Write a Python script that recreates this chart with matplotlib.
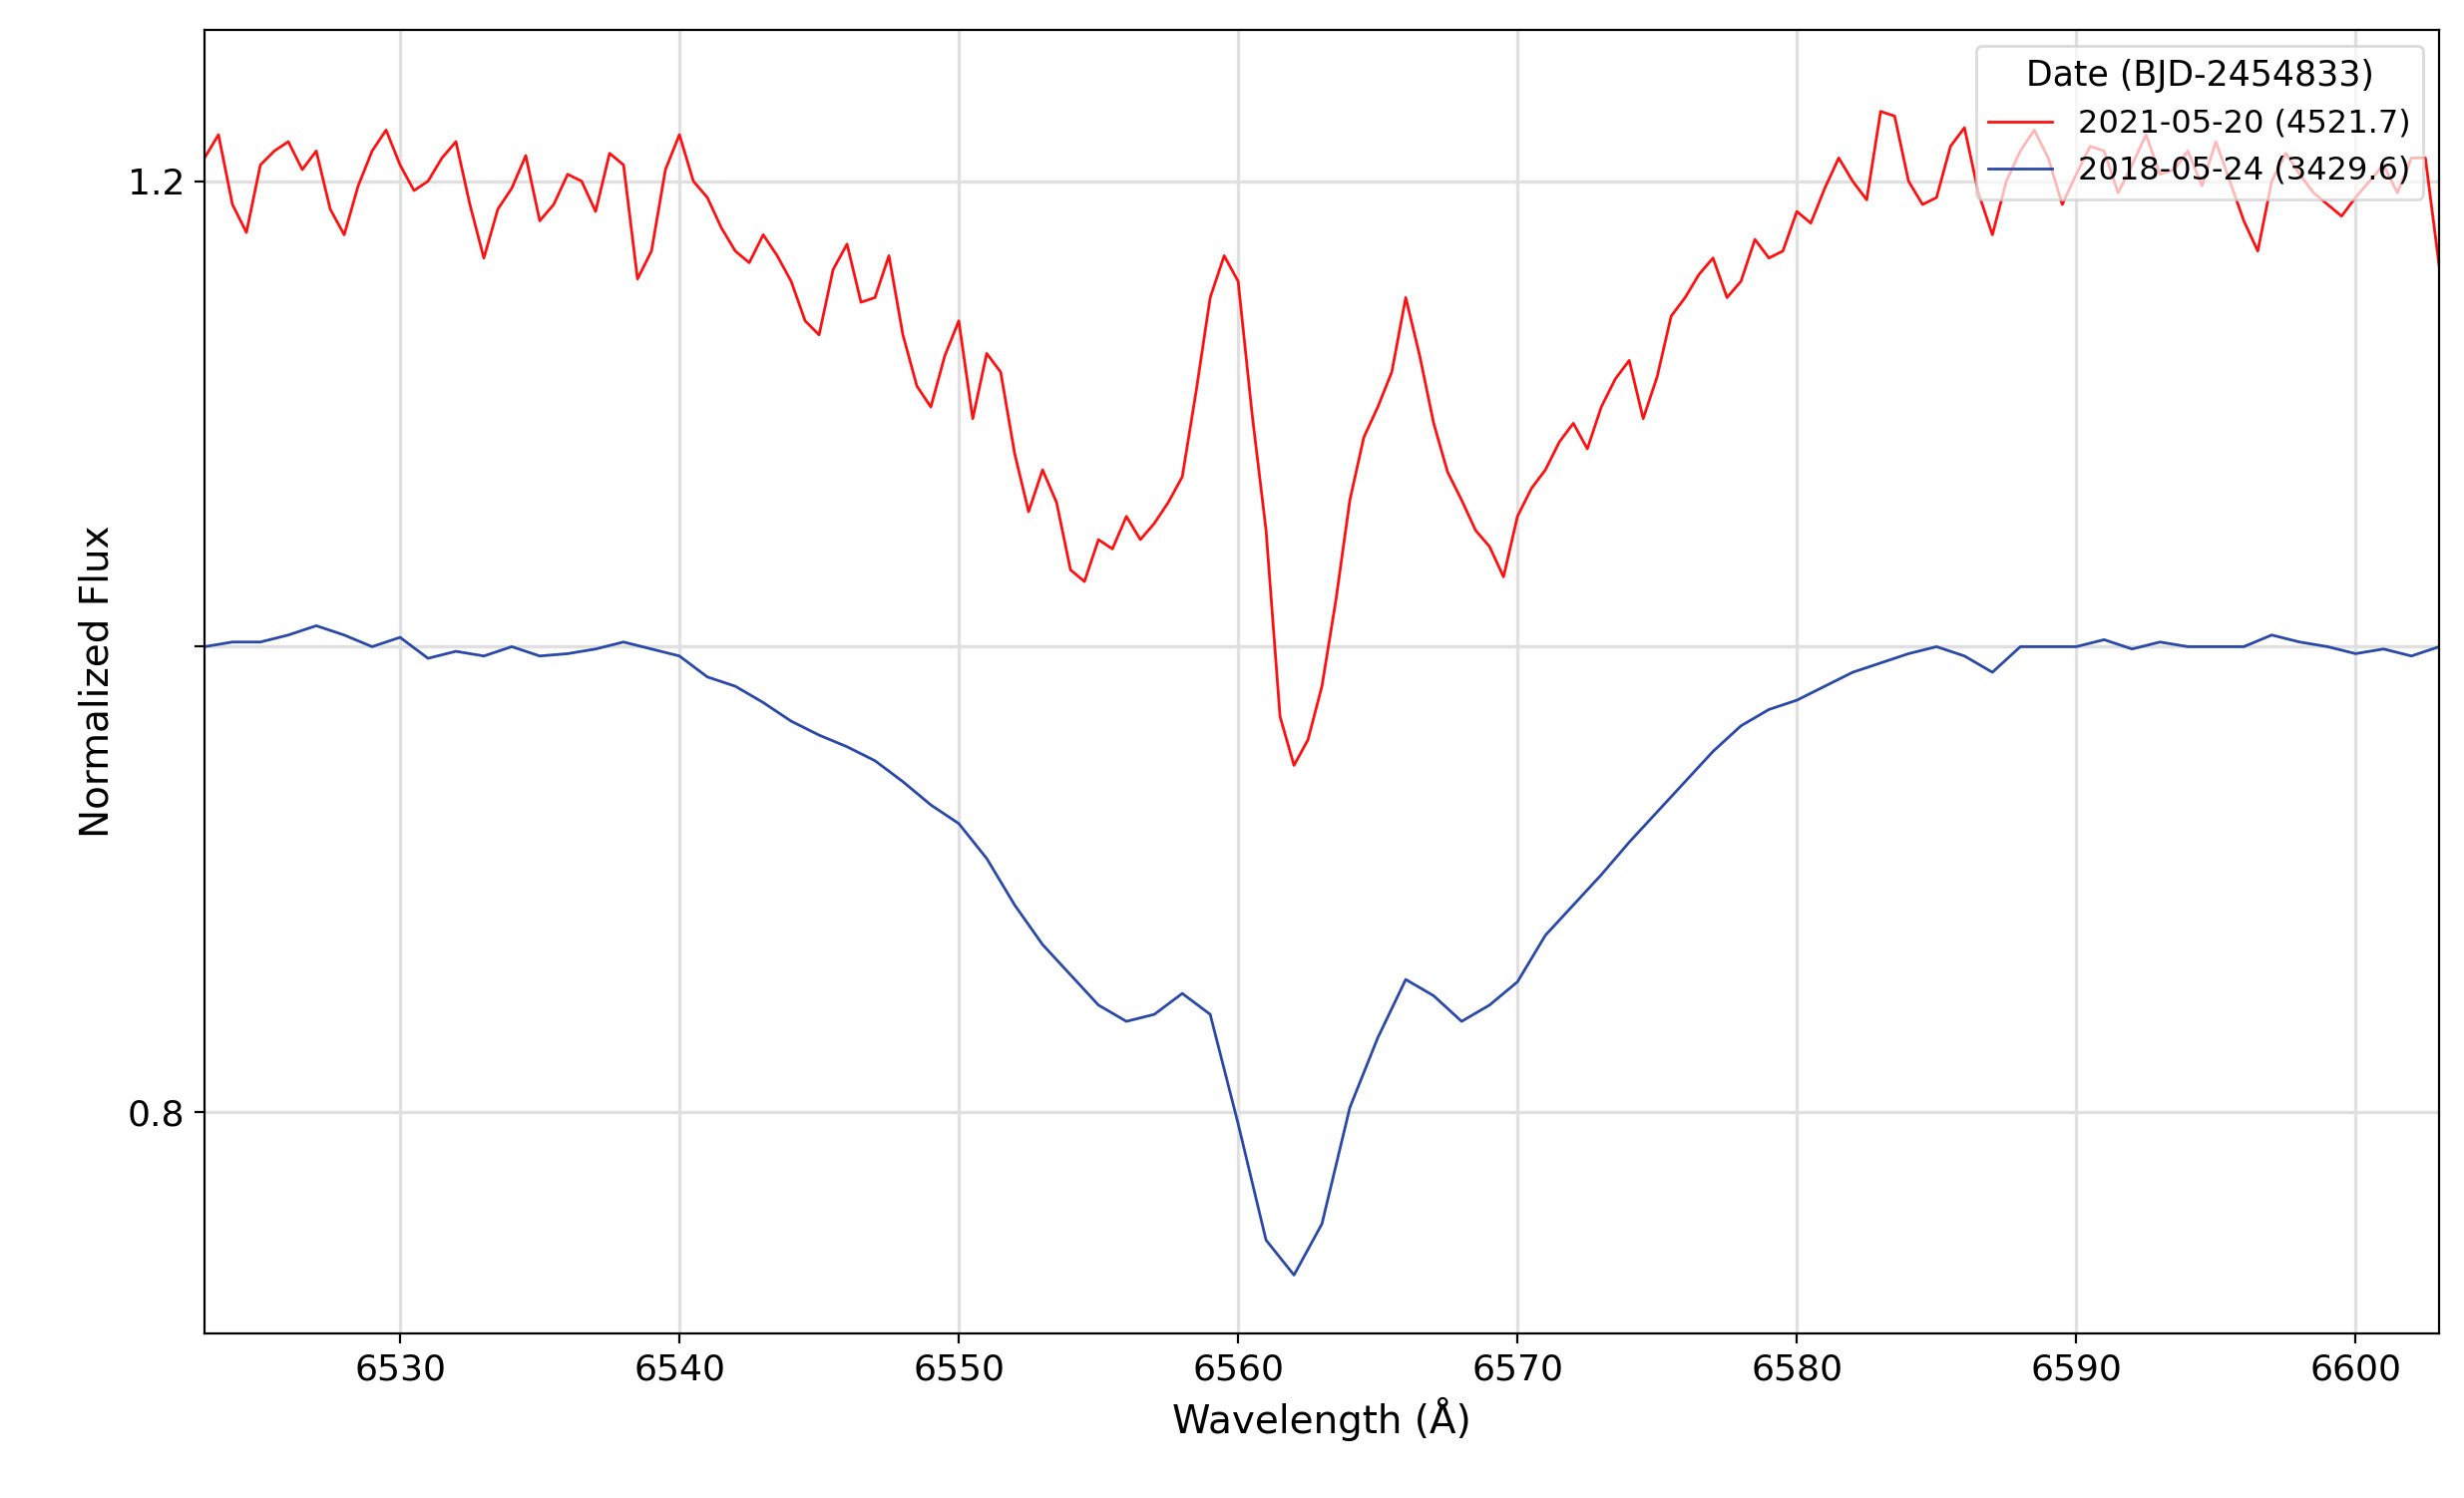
import numpy as np
import matplotlib
matplotlib.use("Agg")
import matplotlib.pyplot as plt

wl = np.arange(6523, 6604)
red = [1.21,1.19,1.207,1.217,1.213,1.177,1.213,1.207,1.2,1.217,1.167,1.197,1.183,1.203,1.187,1.207,1.17,1.22,1.193,1.17,
       1.177,1.157,1.134,1.173,1.15,1.134,1.103,1.14,1.126,1.083,1.076,1.033,1.046,1.056,1.053,1.073,1.15,1.157,1.05,0.949,
       0.983,1.063,1.103,1.15,1.096,1.063,1.043,1.056,1.076,1.096,1.103,1.123,1.116,1.15,1.167,1.157,1.167,1.187,1.197,1.2,
       1.23,1.2,1.193,1.223,1.177,1.213,1.21,1.203,1.213,1.207,1.203,1.213,1.217,1.183,1.2,1.203,1.19,1.193,1.207,1.21,1.163]
# half-Angstrom samples between the integer points above
wl_half = np.arange(6523.5, 6603, 1.0)
red_half = [1.22,1.178,1.213,1.205,1.188,1.198,1.222,1.196,1.21,1.19,1.188,1.211,1.19,1.2,1.212,1.158,1.205,1.2,1.18,1.165,
            1.168,1.14,1.162,1.148,1.168,1.112,1.125,1.098,1.118,1.058,1.062,1.028,1.042,1.046,1.062,1.11,1.168,1.1,0.97,0.96,
            1.02,1.09,1.118,1.125,1.075,1.05,1.03,1.068,1.088,1.085,1.115,1.098,1.142,1.16,1.15,1.175,1.17,1.182,1.21,1.192,
            1.228,1.19,1.215,1.195,1.2,1.222,1.19,1.215,1.195,1.22,1.205,1.198,1.2,1.17,1.212,1.195,1.185,1.2,1.195,1.21]
blue = [1.0,1.002,1.002,1.005,1.009,1.005,1.0,1.004,0.995,0.998,0.996,1.0,0.996,0.997,0.999,1.002,0.999,0.996,0.987,0.983,
        0.976,0.968,0.962,0.957,0.951,0.942,0.932,0.924,0.909,0.889,0.872,0.859,0.846,0.839,0.842,0.851,0.842,0.795,0.745,0.730,
        0.752,0.802,0.832,0.857,0.850,0.839,0.846,0.856,0.876,0.889,0.902,0.916,0.929,0.942,0.955,0.966,0.973,0.977,0.983,0.989,
        0.993,0.997,1.0,0.996,0.989,1.0,1.0,1.0,1.003,0.999,1.002,1.0,1.0,1.0,1.005,1.002,1.0,0.997,0.999,0.996,1.0]
labels = ["2021-05-20 (4521.7)", "2018-05-24 (3429.6)"]

red_wl = np.concatenate([wl, wl_half])
red_all = np.concatenate([red, red_half])
order = np.argsort(red_wl)

fig, ax = plt.subplots(figsize=(12.35, 7.51), dpi=200)
fig.subplots_adjust(left=0.083, right=0.99, top=0.98, bottom=0.11)
ax.plot(red_wl[order], red_all[order], color="#ff1010", lw=1.0, label=labels[0])
ax.plot(wl, blue, color="#2a48a8", lw=1.0, label=labels[1])
ax.set_xlim(6523, 6603)
ax.set_ylim(0.705, 1.265)
ax.set_yticks([0.8, 1.0, 1.2])
ax.set_yticklabels(["0.8", "", "1.2"])
ax.set_xticks(range(6530, 6601, 10))
ax.grid(True, color="#e0e0e0", lw=1.2)
ax.tick_params(labelsize=13)
ax.set_xlabel("Wavelength (Å)", fontsize=14)
ax.set_ylabel("Normalized Flux", fontsize=14)
leg = ax.legend(title="Date (BJD-2454833)", loc="upper right", fontsize=11.5, title_fontsize=12.5, framealpha=0.7)
fig.savefig("out.png")
